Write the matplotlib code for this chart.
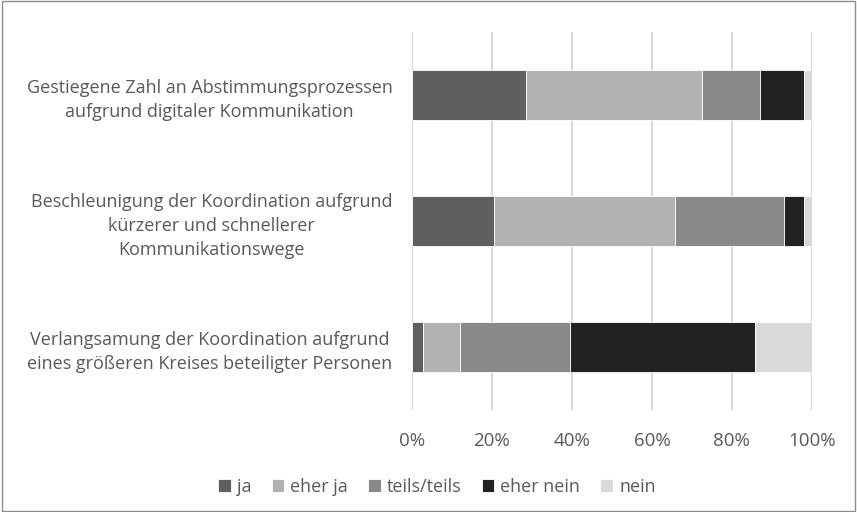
import matplotlib

matplotlib.use("Agg")
import matplotlib.pyplot as plt
import numpy as np
from matplotlib.patches import Rectangle
from matplotlib.ticker import PercentFormatter

plt.rcParams["font.family"] = ["Open Sans", "DejaVu Sans"]

categories = [
    "Gestiegene Zahl an Abstimmungsprozessen\naufgrund digitaler Kommunikation",
    "Beschleunigung der Koordination aufgrund\nkürzerer und schnellerer\nKommunikationswege",
    "Verlangsamung der Koordination aufgrund\neines größeren Kreises beteiligter Personen",
]
series = ["ja", "eher ja", "teils/teils", "eher nein", "nein"]
ja = [28.4, 20.4, 2.7]
eher_ja = [44.1, 45.3, 9.2]
teils = [14.6, 27.4, 27.7]
eher_nein = [10.8, 4.8, 46.1]
nein = [2.1, 2.1, 14.3]
colors = ["#5f5f5f", "#b2b2b2", "#898989", "#222222", "#d9d9d9"]

text_color = "#595959"

fig = plt.figure(figsize=(8.57, 5.12), dpi=100)
ax = fig.add_axes([0.4807, 0.1992, 0.4667, 0.7383])

y = np.arange(len(categories))
left = np.zeros(len(categories))
for name, vals, col in zip(series, [ja, eher_ja, teils, eher_nein, nein], colors):
    ax.barh(y, vals, left=left, height=0.4, color=col, label=name,
            edgecolor="white", linewidth=0.6, zorder=3)
    left += np.array(vals)

ax.set_ylim(len(categories) - 0.5, -0.5)
ax.set_xlim(0, 100)
ax.set_xticks(np.arange(0, 101, 20))
ax.xaxis.set_major_formatter(PercentFormatter(decimals=0))
ax.set_yticks(y)
ax.set_yticklabels(categories)
for lbl in ax.get_yticklabels():
    lbl.set_multialignment("center")
    lbl.set_linespacing(1.45)

ax.grid(axis="x", color="#d9d9d9", linewidth=1.5, zorder=0)
for s in ax.spines.values():
    s.set_visible(False)
ax.tick_params(axis="x", length=0, pad=16, labelsize=13.5, labelcolor=text_color)
ax.tick_params(axis="y", length=0, pad=14, labelsize=13, labelcolor=text_color)

handles, labels = ax.get_legend_handles_labels()
leg = fig.legend(handles, labels, loc="center", bbox_to_anchor=(437 / 857, 1 - 487 / 512),
                 ncol=5, frameon=False, fontsize=13, handlelength=0.7,
                 handleheight=0.7, handletextpad=0.35, columnspacing=1.1)
for t in leg.get_texts():
    t.set_color(text_color)

fig.patches.append(Rectangle((0.002, 0.002), 0.996, 0.996, transform=fig.transFigure,
                             fill=False, edgecolor="#8c8c8c", linewidth=1))

fig.savefig("out.png", dpi=100)
